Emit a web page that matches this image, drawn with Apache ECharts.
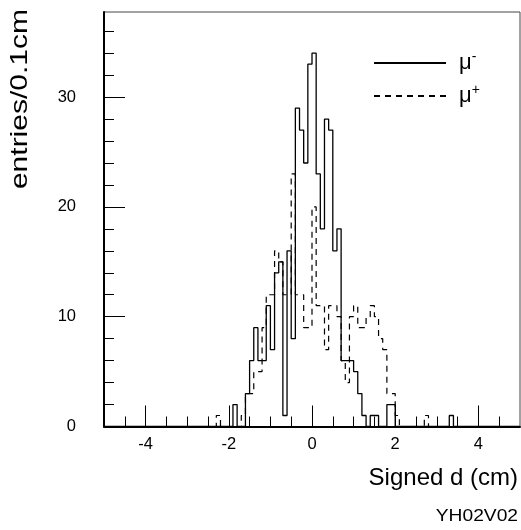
<!DOCTYPE html>
<html><head><meta charset="utf-8">
<script src="https://cdn.jsdelivr.net/npm/echarts@6/dist/echarts.min.js"></script>
<style>html,body{margin:0;padding:0;background:#fff}#c{width:521px;height:530px}</style>
</head><body><div id="c"></div>
<script>
// ---- data (bin low edges, 0.1 cm bins) ----
const binStarts = [-2.3,-2.2,-2.1,-2.0,-1.9,-1.8,-1.7,-1.6,-1.5,-1.4,-1.3,-1.2,-1.1,-1.0,-0.9,-0.8,-0.7,-0.6,-0.5,-0.4,-0.3,-0.2,-0.1,0.0,0.1,0.2,0.3,0.4,0.5,0.6,0.7,0.8,0.9,1.0,1.1,1.2,1.3,1.4,1.5,1.6,1.7,1.8,1.9,2.0];
const muMinusCounts = [0,0,0,0,2,0,0,3,6,9,6,6,11,7,14,15,1,16,8,29,27,24,33,34,23,18,28,27,16,18,6,6,6,5,3,1,0,1,1,0,0,2,2,0];
const muPlusCounts  = [1,0,0,0,0,0,1,3,3,5,5,9,12,12,16,15,12,12,23,12,12,9,9,20,11,11,7,11,11,10,6,4,10,11,9,9,10,11,10,8,7,3,3,1];
const muMinusExtraBins = [3.3];
const muMinusExtraCounts = [1];
const muPlusExtraBins = [2.7];
const muPlusExtraCounts = [1];
const xTickLabels = [-4,-2,0,2,4];
const xMinorTicks = [-4.5,-3.5,-3,-2.5,-1.5,-1,-0.5,0.5,1,1.5,2.5,3,3.5,4.5];
const yTickLabels = [0,10,20,30];
const yMinorTicks = [2,4,6,8,12,14,16,18,22,24,26,28,32,34,36];
const seriesNames = ['μ-','μ+'];

const xMin = -5, xMax = 5, binWidth = 0.1, yMax = 37.75;
function buildSteps(starts, counts, exStarts, exCounts){
  const nb = Math.round((xMax - xMin)/binWidth);
  const arr = new Array(nb).fill(0);
  const put = (s,c)=>{ arr[Math.round((s - xMin)/binWidth)] += c; };
  starts.forEach((s,i)=>put(s,counts[i]));
  exStarts.forEach((s,i)=>put(s,exCounts[i]));
  const pts = arr.map((c,i)=>[+(xMin + i*binWidth).toFixed(2), c]);
  pts.push([xMax, 0]);
  return pts;
}
const FONT = '"Liberation Sans", Arial, Helvetica, sans-serif';
const chart = echarts.init(document.getElementById('c'), null, {renderer:'canvas'});
const gridBox = {left:104, top:12, width:416, height:414.5};
chart.setOption({
  animation:false,
  backgroundColor:'#fff',
  grid:[
    {...gridBox, show:true, borderColor:'#444', borderWidth:1, backgroundColor:'transparent', containLabel:false, outerBoundsMode:'none'},
    {...gridBox, show:false, containLabel:false, outerBoundsMode:'none'}
  ],
  xAxis:[{
    type:'value', gridIndex:0, min:xMin, max:xMax, position:'bottom',
    axisLine:{show:true, onZero:false, lineStyle:{color:'#000', width:2}},
    axisTick:{show:true, inside:true, length:21, customValues:xTickLabels, lineStyle:{color:'#000', width:1}},
    axisLabel:{show:true, customValues:xTickLabels, margin:9, color:'#000', fontSize:16.5, fontFamily:FONT},
    splitLine:{show:false}
  },{
    type:'value', gridIndex:1, min:xMin, max:xMax, position:'bottom',
    axisLine:{show:false, onZero:false},
    axisTick:{show:true, inside:true, length:10, customValues:xMinorTicks, lineStyle:{color:'#000', width:1}},
    axisLabel:{show:false}, splitLine:{show:false}
  }],
  yAxis:[{
    type:'value', gridIndex:0, min:0, max:yMax, position:'left',
    axisLine:{show:true, onZero:false, lineStyle:{color:'#000', width:2}},
    axisTick:{show:true, inside:true, length:21, customValues:yTickLabels, lineStyle:{color:'#000', width:1}},
    axisLabel:{show:true, customValues:yTickLabels, margin:28, color:'#000', fontSize:16.5, fontFamily:FONT},
    splitLine:{show:false}
  },{
    type:'value', gridIndex:1, min:0, max:yMax, position:'left',
    axisLine:{show:false, onZero:false},
    axisTick:{show:true, inside:true, length:10, customValues:yMinorTicks, lineStyle:{color:'#000', width:1}},
    axisLabel:{show:false}, splitLine:{show:false}
  }],
  legend:{
    orient:'vertical', left:373, top:50, padding:0, itemWidth:72, itemHeight:14, itemGap:9,
    data:seriesNames,
    itemStyle:{opacity:0},
    formatter:(n)=> 'μ{sup|' + n.slice(1) + '}',
    textStyle:{fontSize:22, fontFamily:FONT, color:'#000', padding:[0,0,0,8],
      rich:{sup:{fontSize:14, fontFamily:FONT, color:'#000', verticalAlign:'top', padding:[0,0,12,0]}}}
  },
  series:[{
    name:seriesNames[0], type:'line', step:'end', symbol:'none', xAxisIndex:0, yAxisIndex:0,
    data:buildSteps(binStarts, muMinusCounts, muMinusExtraBins, muMinusExtraCounts),
    lineStyle:{color:'#000', width:1.3, type:'solid'}, itemStyle:{color:'#000'}
  },{
    name:seriesNames[1], type:'line', step:'end', symbol:'none', xAxisIndex:0, yAxisIndex:0,
    data:buildSteps(binStarts, muPlusCounts, muPlusExtraBins, muPlusExtraCounts),
    lineStyle:{color:'#000', width:1.2, type:[6,5]}, itemStyle:{color:'#000'}
  }],
  graphic:[
    {type:'text', x:518, y:478, style:{text:'Signed d (cm)', align:'right', verticalAlign:'middle', textAlign:'right', textVerticalAlign:'middle', font:'24px ' + FONT, fill:'#000'}},
    {type:'text', x:518, y:517, scaleX:1.2, style:{text:'YH02V02', align:'right', verticalAlign:'middle', textAlign:'right', textVerticalAlign:'middle', font:'16px ' + FONT, fill:'#000'}},
    {type:'text', x:20, y:9, rotation:Math.PI/2, scaleX:1.25, style:{text:'entries/0.1cm', align:'right', verticalAlign:'middle', textAlign:'right', textVerticalAlign:'middle', font:'24px ' + FONT, fill:'#000'}}
  ]
});
</script></body></html>
